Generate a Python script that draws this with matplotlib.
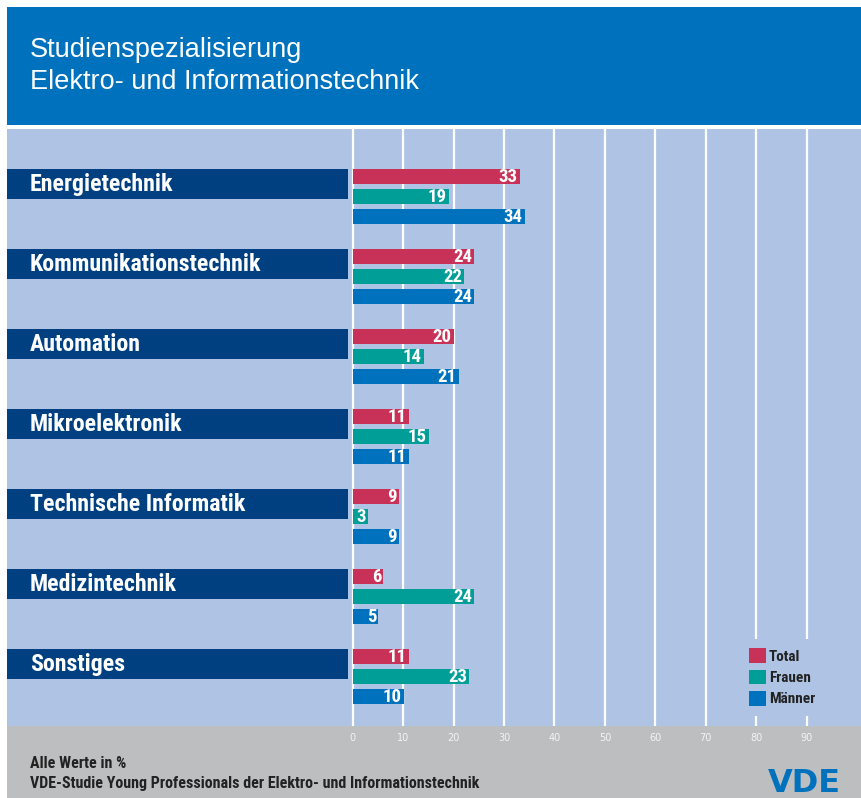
# Studienspezialisierung Elektro- und Informationstechnik (VDE Young Professionals)
import matplotlib
matplotlib.use("Agg")
import matplotlib.pyplot as plt
from matplotlib import font_manager as fm
from matplotlib.patches import Rectangle, Patch

categories = ["Energietechnik", "Kommunikationstechnik", "Automation", "Mikroelektronik",
              "Technische Informatik", "Medizintechnik", "Sonstiges"]
total = [33, 24, 20, 11, 9, 6, 11]
frauen = [19, 22, 14, 15, 3, 24, 23]
maenner = [34, 24, 21, 11, 9, 5, 10]
series_names = ["Total", "Frauen", "Männer"]
ticks = list(range(0, 100, 10))

c_head = "#0071BC"
c_panel = "#AFC4E4"
c_navy = "#003F80"
c_gray = "#BDBEC0"
colors = ["#C83258", "#009E96", "#0071BC"]

# look for a condensed face, the original uses a condensed grotesk
names = {f.name for f in fm.fontManager.ttflist}
narrow = ["Liberation Sans", "DejaVu Sans"]
found = "none"
for cand in ["Liberation Sans Narrow", "Roboto Condensed", "Open Sans Condensed",
             "DejaVu Sans Condensed", "Noto Sans Condensed"]:
    if cand in names:
        narrow = [cand, "Liberation Sans", "DejaVu Sans"]
        found = cand
        break
plain = ["Liberation Sans", "DejaVu Sans"]
cond = found != "none"

W, H = 861, 798
fig = plt.figure(figsize=(W / 100, H / 100), dpi=100)
fig.patch.set_facecolor("white")

def fx(px):
    return px / W

def fy(py):
    return 1 - py / H

# header and footer blocks
fig.patches.append(Rectangle((fx(7), fy(124.5)), fx(854), 117.5 / H, transform=fig.transFigure,
                             facecolor=c_head, edgecolor="none", zorder=-1))
fig.patches.append(Rectangle((fx(7), 0), fx(854), (H - 726) / H, transform=fig.transFigure,
                             facecolor=c_gray, edgecolor="none", zorder=-1))

fig.text(fx(30), fy(57), "Studienspezialisierung", color="white", fontsize=19.5,
         family=plain, va="baseline")
fig.text(fx(30), fy(89), "Elektro- und Informationstechnik", color="white", fontsize=19.5,
         family=plain, va="baseline")

# main panel
ax = fig.add_axes([fx(7), fy(726), fx(854), (726 - 129) / H])
ax.set_facecolor(c_panel)
px_unit = 5.044
x0 = (7 - 352.7) / px_unit
x1 = (861 - 352.7) / px_unit
ax.set_xlim(x0, x1)
ax.set_ylim((726 - 176.5) / 20, (129 - 176.5) / 20)
for s in ax.spines.values():
    s.set_visible(False)
ax.set_xticks(ticks)
ax.tick_params(axis="x", length=0, pad=5, labelsize=7, labelcolor="#F4F4F4")
ax.set_yticks([])
ax.set_axisbelow(True)
ax.grid(axis="x", color="white", lw=1.6)

cat_size = 17.2 if cond else 14.3
box_right = (348 - 352.7) / px_unit
for i, cat in enumerate(categories):
    ax.barh(i * 4 + 0.375, box_right - x0, left=x0, height=1.5, color=c_navy, zorder=2)
    ax.text((30 - 352.7) / px_unit, i * 4 + 0.42, cat, color="white", fontsize=cat_size,
            fontweight="bold", family=narrow, va="center", ha="left", zorder=3)

for j, vals in enumerate([total, frauen, maenner]):
    ys = [i * 4 + j for i in range(len(vals))]
    ax.barh(ys, vals, left=0.1, height=0.75, color=colors[j], zorder=2)
    for y, v in zip(ys, vals):
        ax.text(v - 0.35, y + 0.04, str(v), color="white", fontsize=13.5 if cond else 12.5,
                fontweight="bold", family=narrow, ha="right", va="center", zorder=3)

handles = [Patch(facecolor=c, edgecolor="none") for c in colors]
leg = ax.legend(handles, series_names, loc="upper left",
                bbox_to_anchor=(fx(740), fy(639)), bbox_transform=fig.transFigure,
                frameon=True, facecolor=c_panel, edgecolor="none", framealpha=1,
                fancybox=False, handlelength=1.1, handleheight=1.1, handletextpad=0.2,
                labelspacing=0.38, borderpad=0.6, borderaxespad=0,
                prop={"family": narrow, "weight": "bold", "size": 11 if cond else 10})
leg.set_zorder(5)
for t in leg.get_texts():
    t.set_color("#222222")

# footer texts
fs_foot = 11.5 if cond else 9.8
fig.text(fx(30), fy(768), "Alle Werte in %", color="#222222", fontsize=fs_foot,
         fontweight="bold", family=narrow, va="baseline")
fig.text(fx(30), fy(788), "VDE-Studie Young Professionals der Elektro- und Informationstechnik",
         color="#222222", fontsize=fs_foot, fontweight="bold", family=narrow, va="baseline")
fig.text(fx(804), fy(792.5), "VDE", color=c_head, fontsize=23, fontweight="heavy",
         family=["DejaVu Sans"], ha="center", va="baseline")

fig.savefig("out.png", dpi=100)
